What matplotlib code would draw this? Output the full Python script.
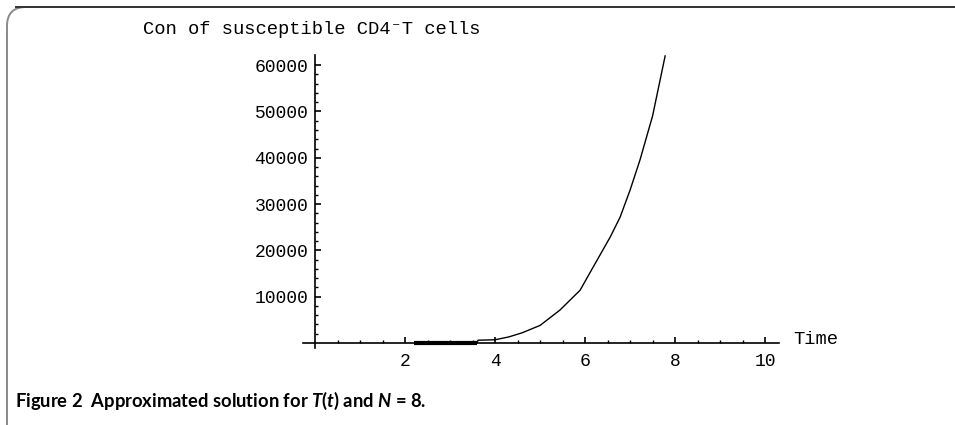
import numpy as np
import matplotlib
matplotlib.use("Agg")
import matplotlib.pyplot as plt
from matplotlib.patches import FancyBboxPatch
from matplotlib.lines import Line2D

# data
t_flat = [2.2, 3.6]
v_flat = [0, 0]
t_curve = [3.6, 3.62, 4.0, 4.3, 4.6, 5.0, 5.44, 5.89, 6.18, 6.56, 6.78, 7.0, 7.22, 7.5, 7.78]
v_curve = [0, 600, 700, 1300, 2200, 3800, 7100, 11400, 16400, 22900, 27200, 33000, 39500, 49000, 62000]

x_major = [2, 4, 6, 8, 10]
y_major = [10000, 20000, 30000, 40000, 50000, 60000]

title = "Con of susceptible CD4\u207bT cells"
xlabel = "Time"
caption = r"Figure 2  Approximated solution for $T$($t$) and $N$ = 8."

plt.rcParams['mathtext.fontset'] = 'custom'
plt.rcParams['mathtext.it'] = 'Lato:bold:italic'
plt.rcParams['mathtext.rm'] = 'Lato:bold'

mono = ['Liberation Mono', 'DejaVu Sans Mono']
W, H = 955, 425
fig = plt.figure(figsize=(W / 100, H / 100), dpi=100)

# frame around the figure
box = FancyBboxPatch((7 / W, -20 / H), 1.2, (H - 7 + 20) / H,
                     boxstyle="round,pad=0,rounding_size=0.02",
                     transform=fig.transFigure, fill=False,
                     edgecolor='#8a8a8a', lw=1.4, mutation_aspect=W / H)
fig.patches.append(box)
fig.lines.append(Line2D([16 / W, 1], [1 - 7 / H, 1 - 7 / H], transform=fig.transFigure,
                        color='#333333', lw=1.4))

# axes placement in pixels
x0, x1 = -0.27, 10.3
y0, y1 = -1080, 62200
left_px, right_px = 303, 778.5
top_px, bot_px = 55, 348
ax = fig.add_axes([left_px / W, (H - bot_px) / H, (right_px - left_px) / W, (bot_px - top_px) / H])
ax.set_xlim(x0, x1)
ax.set_ylim(y0, y1)

ax.plot(t_flat, v_flat, color='black', lw=3, solid_capstyle='butt')
ax.plot(t_curve, v_curve, color='black', lw=1)

for s in ['top', 'right']:
    ax.spines[s].set_visible(False)
ax.spines['left'].set_position(('data', 0))
ax.spines['bottom'].set_position(('data', 0))
ax.spines['left'].set_linewidth(1.2)
ax.spines['bottom'].set_linewidth(1.2)

ax.set_xticks(x_major)
ax.set_xticks(np.arange(0.5, 10.3, 0.5), minor=True)
ax.set_yticks(y_major)
ax.set_yticks(np.arange(2000, 62000, 2000), minor=True)
ax.tick_params(which='major', direction='in', length=4, width=1.2, labelsize=13, pad=5)
ax.tick_params(which='minor', direction='in', length=2.5, width=1)
ax.tick_params(axis='x', which='major', pad=7)
for lab in ax.get_xticklabels() + ax.get_yticklabels():
    lab.set_family(mono)

fig.text(143 / W, 1 - 30 / H, title, family=mono, fontsize=13.5, va='center', ha='left')
fig.text(793 / W, 1 - 340 / H, xlabel, family=mono, fontsize=13.5, va='center', ha='left')
fig.text(15 / W, 1 - 401 / H, caption, family='Lato', fontweight='bold', fontsize=13.2,
         va='center', ha='left')

fig.savefig('out.png', dpi=100)
